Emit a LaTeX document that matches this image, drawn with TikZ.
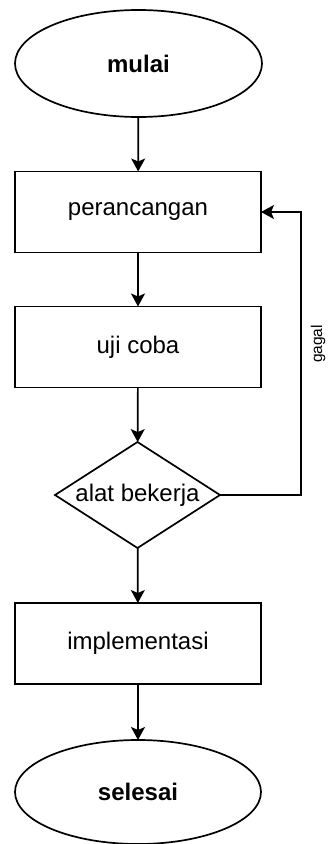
\documentclass[tikz,border=0pt]{standalone}
\usepackage{fontspec}
\setmainfont{Liberation Sans}
\usetikzlibrary{shapes.geometric,arrows.meta}
\begin{document}
\begin{tikzpicture}[x=1pt,y=1pt,
  every node/.style={inner sep=0pt,outer sep=0pt,line width=1.7pt,draw=black,text=black},
  term/.style={ellipse,minimum width=247pt,minimum height=107pt,font=\fontsize{24}{28}\selectfont\bfseries},
  proc/.style={rectangle,minimum width=246pt,minimum height=81pt,font=\fontsize{24}{28}\selectfont},
  dec/.style={diamond,shape aspect=1.557,minimum width=165pt,minimum height=106pt,font=\fontsize{24}{28}\selectfont},
  lbl/.style={draw=none,rotate=90,font=\fontsize{15.5}{18}\selectfont},
  arr/.style={line width=1.7pt,-{Stealth[length=13pt,width=14pt,inset=3pt]}}]
\useasboundingbox (0,0) rectangle (331,-844);
\node[term] (mulai) at (138.5,-63.5) {mulai};
\node[proc] (per) at (138,-212) {perancangan};
\node[proc] (uji) at (138,-347) {uji coba};
\node[dec] (dia) at (137.5,-495) {alat bekerja};
\node[proc] (impl) at (138,-643.5) {implementasi};
\node[term,minimum width=246pt,minimum height=104pt] (selesai) at (138,-792) {selesai};
\coordinate (loop) at (301,-212);
\draw[arr] (mulai) -- (per);
\draw[arr] (per) -- (uji);
\draw[arr] (uji) -- (dia);
\draw[arr] (dia) -- (impl);
\draw[arr] (impl) -- (selesai);
\draw[arr] (dia.east) -| (loop) -- (per.east);
\node[lbl] (gagal) at (318,-344) {gagal};
\end{tikzpicture}
\end{document}
